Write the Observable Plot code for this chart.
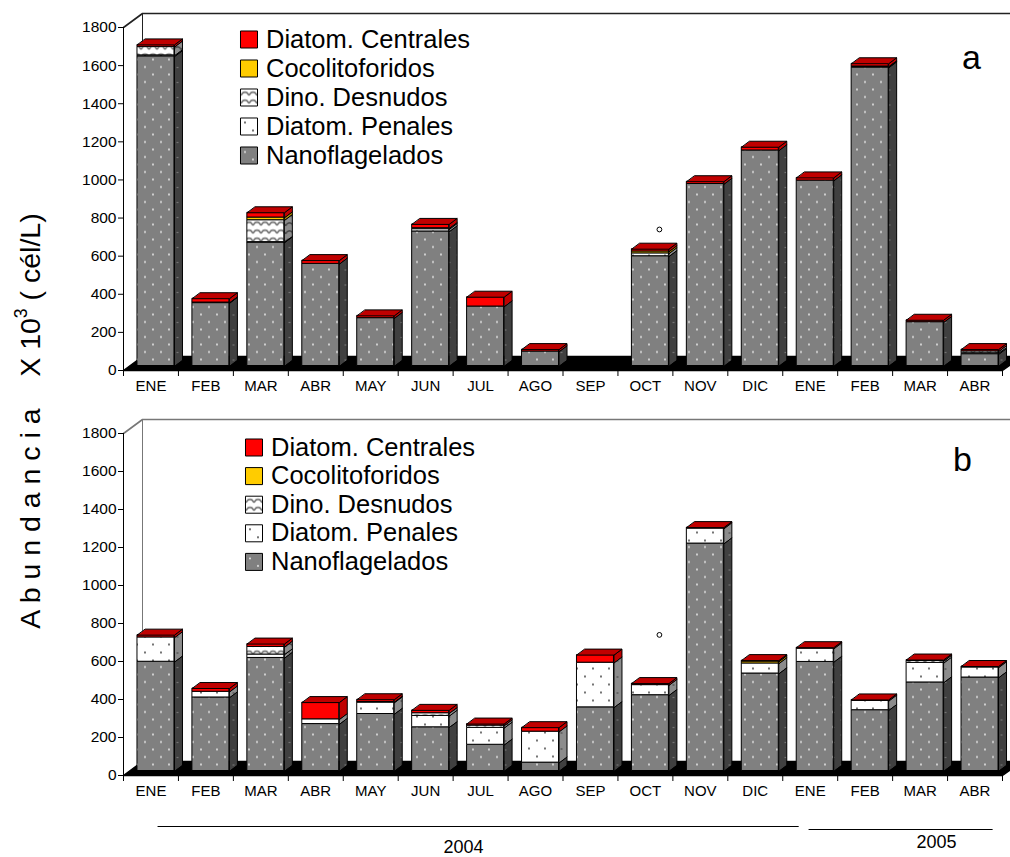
<!DOCTYPE html>
<html>
<head>
<meta charset="utf-8">
<script src="https://cdn.jsdelivr.net/npm/d3@7"></script>
<script src="https://cdn.jsdelivr.net/npm/@observablehq/plot@0.6"></script>
<style>
  body { margin: 0; background: #fff; font-family: "Liberation Sans", Arial, sans-serif; }
  #wrap { position: relative; width: 1010px; height: 857px; overflow: hidden; }
  #wrap svg.plotsvg { display: block; }
  #ylab {
    position: absolute; left: 30px; top: 421px;
    transform: translate(-50%, -50%) rotate(-90deg);
    white-space: nowrap; font-size: 28.5px; color: #000; line-height: 1;
  }
  #ylab sup { font-size: 0.62em; vertical-align: 0.75em; line-height: 0; }
</style>
</head>
<body>
<svg width="0" height="0" style="position:absolute">
  <defs>
    <pattern id="nanoFront" patternUnits="userSpaceOnUse" width="16" height="15">
      <rect width="16" height="15" fill="#808080"/>
      <circle cx="4" cy="4" r="0.9" fill="#f2f2f2"/>
      <circle cx="12" cy="11.5" r="0.9" fill="#f2f2f2"/>
    </pattern>
    <pattern id="nanoSide" patternUnits="userSpaceOnUse" width="16" height="15">
      <rect width="16" height="15" fill="#404040"/>
      <circle cx="4" cy="4" r="0.8" fill="#858585"/>
      <circle cx="12" cy="11.5" r="0.8" fill="#858585"/>
    </pattern>
    <pattern id="penFront" patternUnits="userSpaceOnUse" width="16" height="16">
      <rect width="16" height="16" fill="#ffffff"/>
      <circle cx="4" cy="4" r="0.9" fill="#333"/>
      <circle cx="12" cy="12" r="0.9" fill="#333"/>
    </pattern>
    <pattern id="penSide" patternUnits="userSpaceOnUse" width="16" height="16">
      <rect width="16" height="16" fill="#8c8c8c"/>
      <circle cx="4" cy="4" r="0.8" fill="#333"/>
      <circle cx="12" cy="12" r="0.8" fill="#333"/>
    </pattern>
    <pattern id="dinoFront" patternUnits="userSpaceOnUse" width="8" height="8">
      <rect width="8" height="8" fill="#ffffff"/>
      <path d="M0 6 C2 1.5 6 1.5 8 6" fill="none" stroke="#7a7a7a" stroke-width="1.7"/>
    </pattern>
    <pattern id="dinoSide" patternUnits="userSpaceOnUse" width="8" height="8">
      <rect width="8" height="8" fill="#8c8c8c"/>
      <path d="M0 6 C2 1.5 6 1.5 8 6" fill="none" stroke="#444" stroke-width="1.5"/>
    </pattern>
  </defs>
</svg>

<div id="wrap">
  <div id="panelA"></div>
  <div id="panelB"></div>
  <div id="ylab">A b u n d a n c i a&nbsp;&nbsp;&nbsp;&nbsp;X 10<sup>3</sup> ( cél/L)</div>
</div>

<script>
// Months sampled (Jan 2004 – Apr 2005)
const months = ["ENE","FEB","MAR","ABR","MAY","JUN","JUL","AGO","SEP","OCT","NOV","DIC","ENE","FEB","MAR","ABR"];
// Stacking order, bottom to top
const groups = ["Nanoflagelados","Diatom. Penales","Dino. Desnudos","Cocolitoforidos","Diatom. Centrales"];
const yTicks = [0, 200, 400, 600, 800, 1000, 1200, 1400, 1600, 1800];

// Panel a — abundance (x10^3 cél/L)
const nanoA      = [1625, 330, 648, 536, 251, 706, 312, 76, 0, 576, 955, 1131, 973, 1566, 230, 62];
const penalesA   = [5, 3, 2, 0, 0, 12, 0, 0, 0, 15, 0, 0, 0, 3, 0, 5];
const dinoA      = [45, 0, 115, 0, 0, 5, 0, 0, 0, 0, 0, 0, 0, 3, 0, 10];
const cocoA      = [0, 0, 14, 0, 0, 0, 0, 0, 0, 10, 0, 0, 0, 0, 0, 0];
const centralesA = [10, 20, 25, 17, 12, 20, 49, 10, 0, 12, 12, 17, 14, 14, 10, 9];

// Panel b — abundance (x10^3 cél/L)
const nanoB      = [575, 387, 595, 247, 300, 230, 138, 44, 335, 399, 1197, 513, 574, 320, 466, 492];
const penalesB   = [128, 30, 18, 25, 60, 60, 89, 163, 235, 53, 79, 53, 70, 49, 103, 53];
const dinoB      = [0, 0, 40, 0, 3, 14, 12, 0, 0, 0, 0, 0, 0, 0, 10, 0];
const cocoB      = [0, 0, 0, 0, 0, 0, 0, 0, 0, 0, 0, 10, 0, 0, 0, 0];
const centralesB = [12, 17, 15, 88, 12, 15, 8, 21, 40, 8, 5, 5, 5, 5, 5, 5];

// Year spans (month indices)
const years = [{label: "2004", first: 0, last: 11}, {label: "2005", first: 12, last: 15}];
// Small circle annotation near October
const notes = [{month: 9, value: 740}];

// ---- styling / geometry (pixels) ----
const W = 1010, ML = 123, MR = 8;
const ux = (W - ML - MR) / 16;           // px per month slot
const BAR_W = 37, SHIFT_X = 5, SHIFT_Y = 4.5;
const DEPTH_X = 8, DEPTH_Y = 6;          // bar depth
const FLOOR_X = 19, FLOOR_Y = 14;        // floor / wall depth
const FRONT = ["url(#nanoFront)", "url(#penFront)", "url(#dinoFront)", "#ffcc00", "#ff0000"];
const SIDE  = ["url(#nanoSide)", "url(#penSide)", "url(#dinoSide)", "#b38f00", "#c00000"];
const TOP   = ["#9a9a9a", "#e0e0e0", "#d0d0d0", "#e6b800", "#c00000"];
const LEGEND_ORDER = [4, 3, 2, 1, 0];

function panel(series, cfg) {
  const uy = (cfg.height - cfg.marginTop - cfg.marginBottom) / 1800;
  const hw = BAR_W / 2 / ux, ddx = DEPTH_X / ux, ddy = DEPTH_Y / uy;
  const fx = FLOOR_X / ux, fy = FLOOR_Y / uy;
  const fronts = groups.map(() => []), sides = groups.map(() => []), tops = groups.map(() => []);

  months.forEach((m, i) => {
    let base = 0, topS = -1;
    const x1 = i + 0.5 - hw, x2 = i + 0.5 + hw;
    series.forEach((arr, s) => {
      const v = arr[i];
      if (!(v > 0)) return;
      fronts[s].push({x1, x2, y1: base, y2: base + v});
      const id = `${i}-${s}`;
      sides[s].push(
        {id, x: x2, y: base}, {id, x: x2, y: base + v},
        {id, x: x2 + ddx, y: base + v + ddy}, {id, x: x2 + ddx, y: base + ddy});
      base += v; topS = s;
    });
    if (topS >= 0) {
      const id = `t${i}`;
      tops[topS].push(
        {id, x: x1, y: base}, {id, x: x2, y: base},
        {id, x: x2 + ddx, y: base + ddy}, {id, x: x1 + ddx, y: base + ddy});
    }
  });

  const floor = [{x: 0, y: 0}, {x: 16, y: 0}, {x: 16 + fx, y: fy}, {x: fx, y: fy}];
  const wallTop = [{x: 0, y: 1800}, {x: fx, y: 1800 + fy}, {x: 16 + fx, y: 1800 + fy}];
  const wallEdge = [{x: fx, y: fy}, {x: fx, y: 1800 + fy}];
  const barOpts = {dx: SHIFT_X, dy: -SHIFT_Y, stroke: "#000", strokeWidth: 1, strokeLinejoin: "round"};

  const marks = [
    Plot.line(wallEdge, {x: "x", y: "y", stroke: cfg.wallColor, strokeWidth: 1}),
    Plot.line(wallTop, {x: "x", y: "y", stroke: cfg.wallColor, strokeWidth: 1.6}),
    Plot.line(floor, {x: "x", y: "y", fill: "#000", stroke: "#000", curve: "linear-closed"}),
    Plot.ruleX([0], {y1: 0, y2: 1800, stroke: "#000"}),
    Plot.ruleY([0], {x1: 0, x2: 16, stroke: "#000"}),
    Plot.axisY({ticks: yTicks, tickSize: 5, tickPadding: 2, fontSize: 15.5, label: null, tickFormat: d => String(d)}),
    Plot.axisX({ticks: d3.range(17), tickSize: 6, tickFormat: () => "", label: null}),
    Plot.axisX({ticks: d3.range(16).map(i => i + 0.5), tickSize: 0, tickPadding: 10,
                tickFormat: d => months[Math.floor(d)], fontSize: 15, label: null})
  ];
  groups.forEach((g, s) => {
    marks.push(Plot.rect(fronts[s], {x1: "x1", x2: "x2", y1: "y1", y2: "y2", fill: FRONT[s], ...barOpts}));
    marks.push(Plot.line(sides[s], {x: "x", y: "y", z: "id", fill: SIDE[s], curve: "linear-closed", ...barOpts}));
    marks.push(Plot.line(tops[s], {x: "x", y: "y", z: "id", fill: TOP[s], curve: "linear-closed", ...barOpts}));
  });

  // legend
  LEGEND_ORDER.forEach((s, k) => {
    marks.push(Plot.dot([0], {frameAnchor: "top-left", dx: cfg.legX, dy: cfg.legY + k * cfg.legStep,
      symbol: "square", r: 9.6, fill: FRONT[s], stroke: "#000", strokeWidth: 1}));
    marks.push(Plot.text([groups[s]], {frameAnchor: "top-left", dx: cfg.legX + 17, dy: cfg.legY + k * cfg.legStep,
      text: d => d, textAnchor: "start", lineAnchor: "middle", fontSize: 25.5, fill: "#000"}));
  });
  // panel letter
  marks.push(Plot.text([cfg.letter], {frameAnchor: "top-right", dx: cfg.letterDx, dy: cfg.letterDy,
    text: d => d, textAnchor: "middle", lineAnchor: "middle", fontSize: 34, fill: "#000"}));
  // small circle annotation
  marks.push(Plot.dot(notes, {x: d => d.month + 0.5, y: "value", dx: 14, r: 2.4, stroke: "#000", strokeWidth: 1, fill: "none"}));

  if (cfg.years) {
    const insetStart = [0.62, 0.47], insetEnd = [1.29, 0.82];
    const textDx = [0.19, 0.8], lineDy = [51, 54], textDy = [72, 67];
    years.forEach((yr, k) => {
      marks.push(Plot.link([yr], {x1: d => d.first + insetStart[k], x2: d => d.last + insetEnd[k],
        y1: 0, y2: 0, dy: lineDy[k], stroke: "#000", strokeWidth: 1}));
      marks.push(Plot.text([yr], {x: d => (d.first + d.last + 1) / 2 + textDx[k], y: 0, dy: textDy[k],
        text: "label", fontSize: 18, fill: "#000", lineAnchor: "middle"}));
    });
  }

  return Plot.plot({
    width: W, height: cfg.height,
    marginLeft: ML, marginRight: MR, marginTop: cfg.marginTop, marginBottom: cfg.marginBottom,
    x: {domain: [0, 16]},
    y: {domain: [0, 1800]},
    style: {fontFamily: "'Liberation Sans', Arial, sans-serif", color: "#000", background: "transparent", overflow: "hidden"},
    marks
  });
}

const svgA = panel([nanoA, penalesA, dinoA, cocoA, centralesA], {
  height: 405, marginTop: 27, marginBottom: 35, wallColor: "#222",
  legX: 125.5, legY: 12, legStep: 29, letter: "a", letterDx: -31, letterDy: 31
});
const svgB = panel([nanoB, penalesB, dinoB, cocoB, centralesB], {
  height: 452, marginTop: 28, marginBottom: 82, wallColor: "#777",
  legX: 130.5, legY: 14, legStep: 28.6, letter: "b", letterDx: -40, letterDy: 27, years: true
});
svgA.classList.add("plotsvg"); svgB.classList.add("plotsvg");
document.getElementById("panelA").appendChild(svgA);
document.getElementById("panelB").appendChild(svgB);
</script>
</body>
</html>
